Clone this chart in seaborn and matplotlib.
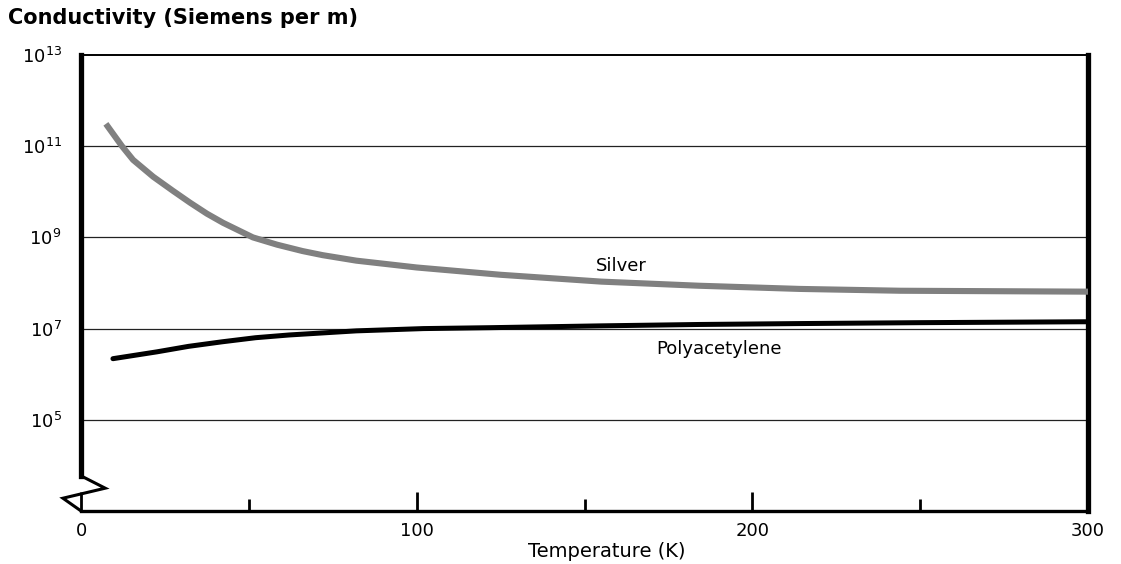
import matplotlib

matplotlib.use("Agg")

import matplotlib.pyplot as plt
import numpy as np
import pandas as pd
import seaborn as sns

# temperature (K) and log10 conductivity (S/m)
silver_temp = [7.4, 12.2, 15.5, 21.5, 27.4, 32.5, 37.5, 42.3, 51.2, 58.4, 66, 72, 82, 100, 125, 155, 184, 214, 244, 300]
silver_log = [11.49, 11.0, 10.7, 10.33, 10.02, 9.76, 9.52, 9.32, 9.0, 8.84, 8.7, 8.61, 8.49, 8.34, 8.18, 8.03, 7.94, 7.87, 7.83, 7.81]

poly_temp = [9.5, 22.6, 32, 42, 52, 62, 82, 102, 122, 155, 184, 214, 250, 300]
poly_log = [6.34, 6.49, 6.61, 6.71, 6.8, 6.86, 6.95, 7.0, 7.02, 7.06, 7.09, 7.11, 7.13, 7.15]

y_ticks = [1e5, 1e7, 1e9, 1e11, 1e13]
y_labels = ["$10^{5}$", "$10^{7}$", "$10^{9}$", "$10^{11}$", "$10^{13}$"]
x_major = [0, 100, 200, 300]
x_minor = [50, 150, 250]

silver = pd.DataFrame({"temp": silver_temp, "sigma": np.power(10.0, silver_log)})
poly = pd.DataFrame({"temp": poly_temp, "sigma": np.power(10.0, poly_log)})

sns.set_theme(style="white")
plt.rcParams["font.family"] = ["DejaVu Sans"]
plt.rcParams["text.color"] = "black"
plt.rcParams["xtick.color"] = "black"
plt.rcParams["ytick.color"] = "black"

fig = plt.figure(figsize=(11.21, 5.64), dpi=100)
ax = fig.add_axes([0.0723, 0.094, 0.8983, 0.8085])

for y in y_ticks[:-1]:
    ax.axhline(y, color="#222222", linewidth=0.9, zorder=1)

sns.lineplot(data=silver, x="temp", y="sigma", ax=ax, color="#808080",
             linewidth=4.4, solid_capstyle="butt", solid_joinstyle="round", zorder=3)
sns.lineplot(data=poly, x="temp", y="sigma", ax=ax, color="black",
             linewidth=3.6, solid_capstyle="round", solid_joinstyle="round", zorder=3)

ax.set_yscale("log")
ax.set_xlim(0, 300)
ax.set_ylim(1e3, 1e13)
ax.set_yticks(y_ticks)
ax.set_yticklabels(y_labels)
ax.minorticks_off()
ax.set_xticks(x_major)
ax.set_xticks(x_minor, minor=True)
ax.set_xticklabels([str(v) for v in x_major])
ax.tick_params(axis="x", which="major", direction="in", length=14, width=2,
               color="black", labelsize=13, pad=8, bottom=True)
ax.tick_params(axis="x", which="minor", direction="in", length=9, width=2,
               color="black", bottom=True)
ax.tick_params(axis="y", which="both", length=0, labelsize=13, pad=14)
ax.set_xlabel("")
ax.set_ylabel("")

for side, lw in [("left", 3.8), ("right", 3.8), ("bottom", 2.4), ("top", 1.4)]:
    ax.spines[side].set_visible(True)
    ax.spines[side].set_color("black")
    ax.spines[side].set_linewidth(lw)
ax.spines["left"].set_bounds(10 ** 3.77, 1e13)

# axis break zigzag at the bottom of the y axis
ax.plot([0.0, 0.024, -0.018, 0.0], [0.077, 0.050, 0.028, 0.0], transform=ax.transAxes,
        color="black", linewidth=2.2, clip_on=False, solid_joinstyle="miter", zorder=5)

ax.text(161, 10 ** 8.37, "Silver", ha="center", va="center", fontsize=13)
ax.text(190, 10 ** 6.56, "Polyacetylene", ha="center", va="center", fontsize=13)

fig.text(0.007, 0.968, "Conductivity (Siemens per m)", ha="left", va="center",
         fontsize=15, fontweight="bold")
fig.text(0.541, 0.023, "Temperature (K)", ha="center", va="center", fontsize=14)

fig.savefig("out.png", dpi=100, facecolor="white")
